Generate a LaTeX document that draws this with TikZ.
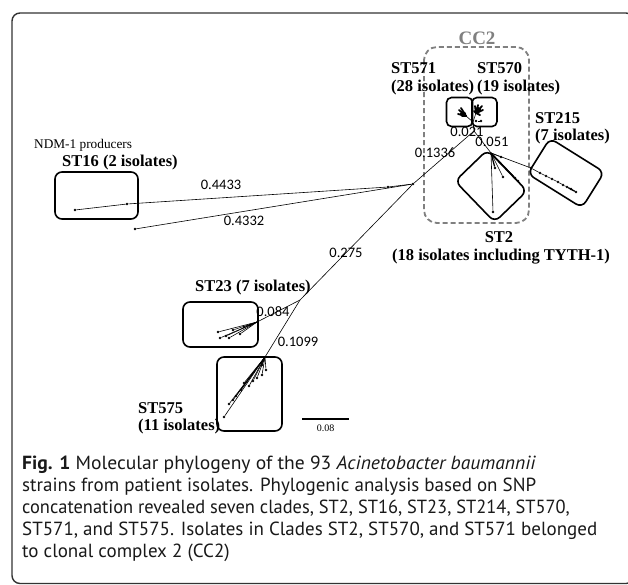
\documentclass[tikz,border=0pt]{standalone}
\usepackage{fontspec}
\usepackage{graphicx}
\setmainfont{Liberation Serif}
\newfontfamily\numfont{Carlito}
\newfontfamily\capfont{PT Sans}
\begin{document}
\begin{tikzpicture}[x=1pt,y=-1pt,
  frame/.style={draw=black!80, line width=1.4pt, rounded corners=8pt},
  cbox/.style={draw, line width=1.6pt, rounded corners=7pt, inner sep=0pt},
  ccbox/.style={draw=black!50, line width=1.8pt, dash pattern=on 5pt off 3pt, rounded corners=13pt},
  lbl/.style={font=\fontsize{16.5}{18}\selectfont\bfseries, inner sep=0pt},
  num/.style={font=\numfont\fontsize{14.5}{16}\selectfont, inner sep=0pt},
  dot/.style={circle, fill, inner sep=0pt, minimum size=2.6pt},
  br/.style={line width=0.6pt},
  thk/.style={line width=1.3pt},
  blob/.style={line width=1.8pt, line cap=round},
  captext/.style={font=\capfont\fontsize{19}{22}\selectfont, text=black!90, inner sep=0pt, anchor=base west}]
\useasboundingbox (0,0) rectangle (628,584);
\clip (0,0) rectangle (628,584);
\fill[white] (0,0) rectangle (628,584);
\draw[frame] (12,13) rectangle (634,583.5);

% CC2 dashed region
\draw[ccbox] (424,47) rectangle (529,223);
\node[lbl, text=black!50, font=\fontsize{19}{21}\selectfont\bfseries] (cc2) at (477,38) {CC2};

% boxes
\node[cbox, minimum width=83pt, minimum height=47pt] (b16) at (96.5,195.5) {};
\node[cbox, minimum width=75pt, minimum height=45pt] (b23) at (220.5,324.5) {};
\node[cbox, minimum width=65pt, minimum height=74pt] (b575) at (249.5,394) {};
\node[cbox, minimum width=26pt, minimum height=29pt, rounded corners=5pt] (b571) at (459.5,112) {};
\node[cbox, minimum width=25pt, minimum height=29pt, rounded corners=5pt] (b570) at (484.5,112) {};
\node[cbox, minimum width=57pt, minimum height=45pt, rotate=-46] (b2) at (491,186) {};
\node[cbox, minimum width=64pt, minimum height=42pt, rotate=-32] (b215) at (566,173) {};

% labels
\node[inner sep=0pt, anchor=west, font=\fontsize{13.3}{15}\selectfont] (ndm) at (34,145) {NDM-1 producers};
\node[lbl, anchor=west] (l16) at (62,163) {ST16 (2 isolates)};
\node[lbl, anchor=west] (l23) at (195,288) {ST23 (7 isolates)};
\node[lbl, anchor=west] (l575a) at (138,408) {ST575};
\node[lbl, anchor=west] (l575b) at (138,427) {(11 isolates)};
\node[lbl, anchor=west] (l571a) at (391,68) {ST571};
\node[lbl, anchor=west] (l571b) at (391,88) {(28 isolates)};
\node[lbl, anchor=west] (l570a) at (477,68) {ST570};
\node[lbl, anchor=west] (l570b) at (477,88) {(19 isolates)};
\node[lbl, anchor=west] (l215a) at (535,118) {ST215};
\node[lbl, anchor=west] (l215b) at (535,137) {(7 isolates)};
\node[lbl] (l2a) at (499,237) {ST2};
\node[lbl] (l2b) at (501,257) {(18 isolates including TYTH-1)};

% tree: ST16
\node[dot] (p1) at (75,210) {};
\node[dot] (p2) at (127,204) {};
\node[dot] (p3) at (135,229) {};
\node[dot] (j1) at (388,187) {};
\node[dot] (j2) at (413,184) {};
\draw[br] (p1) -- (p2);
\draw[br] (p2) -- (j1) -- (j2);
\draw[br] (p3) -- (j2);

% trunk
\coordinate (c1) at (474,131);
\coordinate (j23) at (300,300);
\draw[br] (j2) -- (c1);
\draw[br] (j2) -- (j23);

% ST23
\coordinate (r23) at (257,322);
\draw[br] (j23) -- (r23);
\foreach \n/\p in {a/{(218,332)}, b/{(220,338)}, c/{(226,336)}, d/{(233,330)}, e/{(240,334)}, f/{(244,327)}, g/{(250,325)}, h/{(229,338)}}
  {\node[dot] (t23\n) at \p {}; \draw[br] (r23) -- (t23\n);}

% ST575
\coordinate (r575) at (265,357);
\draw[br] (j23) -- (r575);
\foreach \n/\p in {a/{(224,417)}, b/{(229,404)}, c/{(233,400)}, d/{(236,396)}, e/{(241,390)}, f/{(244,383)}, g/{(249,386)}, h/{(253,381)}, i/{(257,378)}, j/{(262,375)}, k/{(266,370)}, l/{(262,365)}}
  {\node[dot] (t575\n) at \p {}; \draw[br] (r575) -- (t575\n);}

% CC2 tree
\coordinate (r57) at (473,122);
\coordinate (s571) at (466,116);
\coordinate (s570) at (476,113);
\draw[br] (c1) -- (r57);
\draw[br] (r57) -- (s571);
\draw[br] (r57) -- (s570);
\node[dot] (q1) at (476,121) {};
\node[dot] (q2) at (481,121) {};
\draw[br] (q1) -- (q2);
\fill (463,114) ellipse (3.2pt and 2.4pt);
\foreach \p in {(459,110),(461,108),(458,114),(462,116)}
  \draw[blob] (s571) -- \p;
\fill (478,110) ellipse (3.2pt and 3pt);
\foreach \p in {(475,106),(478,105),(482,106),(483,110),(474,111),(480,115)}
  \draw[blob] (s570) -- \p;

\coordinate (c2) at (491,153);
\draw[br] (c1) -- (c2);
\node[dot] (d1) at (493,212) {};
\node[dot] (d2) at (503,177) {};
\node[dot] (d3) at (515,178) {};
\node[dot] (d5) at (518,181) {};
\node[dot] (d4) at (495,168) {};
\node[dot] (d6) at (501,157) {};
\draw[br] (c2) -- (d1);
\draw[br] (c2) -- (d2);
\draw[thk] (c2) -- (d3);
\draw[br] (c2) -- (d5);
\draw[thk] (c2) -- (d4);
\draw[br] (c2) -- (d6);
\node[dot] (e1) at (531,168) {};
\draw[br] (c2) -- (e1);
\foreach \n/\p in {a/{(540,173)}, b/{(546,176)}, c/{(552,179)}, d/{(558,182)}, e/{(563,185)}, f/{(567,187)}, g/{(571,189)}, h/{(576,192)}}
  {\node[dot] (e\n) at \p {};}
\draw[br] (e1) -- (ea) -- (eb) -- (ec) -- (ed) -- (ee) -- (ef) -- (eg) -- (eh);
\draw[thk] (ef) -- (eh);

% branch lengths
\node[num] (n1) at (221,185) {0.4433};
\node[num] (n2) at (244,221) {0.4332};
\node[num] (n3) at (346,253) {0.275};
\node[num] (n4) at (435,153) {0.1336};
\node[num] (n5) at (467,132) {0.021};
\node[num] (n6) at (492,142) {0.051};
\node[num] (n7) at (273,312) {0.084};
\node[num] (n8) at (298,342) {0.1099};

% scale bar
\coordinate (sbl) at (302,419);
\coordinate (sbr) at (349,419);
\draw[line width=1.8pt] (sbl) -- (sbr);
\node[inner sep=0pt, font=\fontsize{10}{11}\selectfont] (sbt) at (325.5,428) {0.08};

% caption
\node[captext] (cap1) at (22,469) {\scalebox{1.03}[1]{\textbf{Fig. 1} Molecular phylogeny of the 93 \textit{Acinetobacter baumannii}}};
\node[captext] (cap2) at (22,491) {strains from patient isolates. Phylogenic analysis based on SNP};
\node[captext] (cap3) at (22,513) {\scalebox{0.97}[1]{concatenation revealed seven clades, ST2, ST16, ST23, ST214, ST570,}};
\node[captext] (cap4) at (22,535) {ST571, and ST575. Isolates in Clades ST2, ST570, and ST571 belonged};
\node[captext] (cap5) at (22,557) {to clonal complex 2 (CC2)};
\end{tikzpicture}
\end{document}
